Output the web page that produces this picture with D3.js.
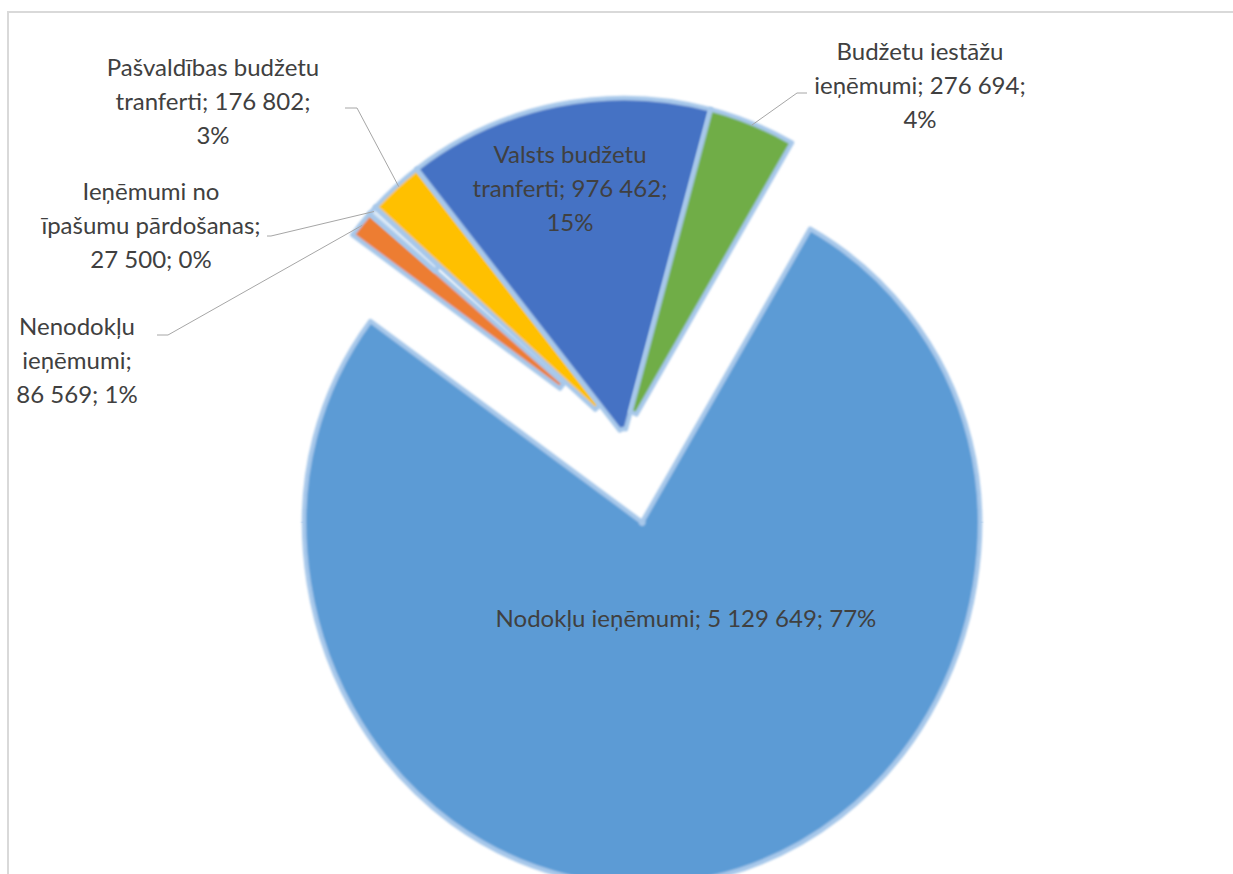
<!DOCTYPE html>
<html>
<head>
<meta charset="utf-8">
<script src="https://cdn.jsdelivr.net/npm/d3@7"></script>
<style>
  body { margin: 0; background: #fff; }
  svg { display: block; }
</style>
</head>
<body>
<svg width="1233" height="874"></svg>
<script>
'use strict';

// data
const categories = ['Nodokļu ieņēmumi', 'Nenodokļu ieņēmumi', 'Ieņēmumi no īpašumu pārdošanas',
  'Pašvaldības budžetu tranferti', 'Valsts budžetu tranferti', 'Budžetu iestāžu ieņēmumi']
const values = [5129649, 86569, 27500, 176802, 976462, 276694]
const colors = ['#5b9bd5', '#ed7d31', '#dce9f6', '#ffc000', '#4472c4', '#70ad47']

// label layout (Excel manual layout): words per line, anchor, leader line
const lineWords = [[4], [1, 1, 2], [2, 2, 2], [2, 2, 1], [2, 2, 1], [2, 2, 1]]
const labelLayout = [
  { x: 686, y: 627 },
  { x: 77, y: 335, lead: [157, 335, 168], frac: 0.5 },
  { x: 151, y: 200, lead: [267, 236, 271], frac: 0.5 },
  { x: 213, y: 76, lead: [345, 108, 357], frac: 0.55 },
  { x: 570, y: 163 },
  { x: 920, y: 60, lead: [807, 93, 797], frac: 0.5 }
]
const explode = [88, 0, 0, 0, 0, 0]

const cx = 624, cy = 436, R = 338
const startDeg = 29.8
const lineH = 34
// the scanned original is a bit taller below the pie centre
const stretchBelow = 1.075

const svg = d3.select('svg')
const total = d3.sum(values)
const fmt = (v) => d3.format(',')(v).replace(/,/g, ' ')

// chart frame
svg.append('path')
  .attr('d', 'M8,874 V12 H1233')
  .style('fill', 'none')
  .style('stroke', '#d9d9d9')
  .style('stroke-width', 2)

const defs = svg.append('defs')
defs.append('filter').attr('id', 'soft')
  .append('feGaussianBlur').attr('stdDeviation', 0.8)
defs.append('clipPath').attr('id', 'upper')
  .append('rect').attr('x', -600).attr('y', -600).attr('width', 1200).attr('height', 600.5)
defs.append('clipPath').attr('id', 'lower')
  .append('rect').attr('x', -600).attr('y', -0.5).attr('width', 1200).attr('height', 600)

const pie = d3.pie().sort(null)
  .startAngle(startDeg * Math.PI / 180)
  .endAngle(startDeg * Math.PI / 180 + 2 * Math.PI)
const arcs = pie(values)

// thin slices lose their tips under the soft edge, like the original
const arc = d3.arc()
  .outerRadius(R)
  .innerRadius((d) => Math.min(R - 4, 6.5 / (d.endAngle - d.startAngle)))

const g = svg.append('g').attr('transform', `translate(${cx},${cy})`)

const slices = g.selectAll('g.slice')
  .data(arcs)
  .enter()
  .append('g')
  .attr('class', 'slice')
  .attr('transform', (d, i) => {
    const a = (d.startAngle + d.endAngle) / 2
    return `translate(${Math.sin(a) * explode[i]},${-Math.cos(a) * explode[i]})`
  })

function drawSlice(sel, clip, sy) {
  sel.append('g')
    .attr('clip-path', `url(#${clip})`)
    .append('path')
    .attr('d', arc)
    .attr('transform', `scale(1,${sy})`)
    .attr('filter', 'url(#soft)')
    .style('fill', (d, i, n) => colors[arcs.indexOf(d)])
    .style('stroke', '#a7c8ea')
    .style('stroke-width', 4.5)
    .style('stroke-linejoin', 'round')
}
slices.each(function() {
  const s = d3.select(this)
  drawSlice(s, 'upper', 1)
  drawSlice(s, 'lower', stretchBelow)
})

// leader lines
arcs.forEach((d, i) => {
  const L = labelLayout[i]
  if (!L.lead) return
  const a = d.startAngle + L.frac * (d.endAngle - d.startAngle)
  const px = cx + Math.sin(a) * (R - 2)
  const py = cy - Math.cos(a) * (R - 2)
  svg.append('path')
    .attr('d', `M${L.lead[0]},${L.lead[1]} H${L.lead[2]} L${px},${py}`)
    .style('fill', 'none')
    .style('stroke', '#a6a6a6')
    .style('stroke-width', 1)
})

// labels
arcs.forEach((d, i) => {
  const pct = Math.round(values[i] / total * 100) + '%'
  const words = categories[i].split(' ')
  words[words.length - 1] += ';'
  const tokens = words.concat([fmt(values[i]) + ';', pct])
  const lines = []
  let k = 0
  lineWords[i].forEach((n) => { lines.push(tokens.slice(k, k + n).join(' ')); k += n })
  const L = labelLayout[i]
  const t = svg.append('text')
    .attr('text-anchor', 'middle')
    .style('font-family', 'Lato, "Open Sans", sans-serif')
    .style('font-size', '24px')
    .style('fill', '#404040')
  lines.forEach((s, j) => {
    t.append('tspan').attr('x', L.x).attr('y', L.y + j * lineH).text(s)
  })
})
</script>
</body>
</html>
